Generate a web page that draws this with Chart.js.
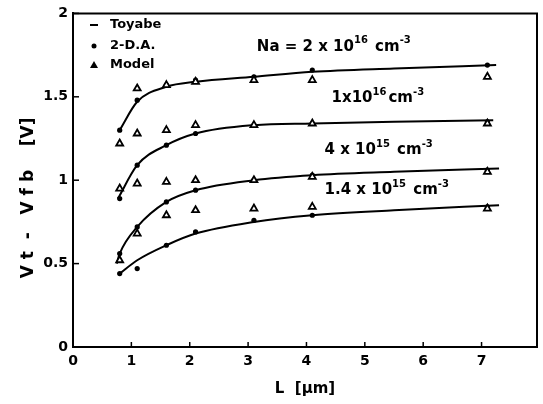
<!DOCTYPE html>
<html><head><meta charset="utf-8">
<script src="https://cdn.jsdelivr.net/npm/chart.js@4"></script>
<style>html,body{margin:0;padding:0;background:#fff}</style>
</head><body>
<canvas id="c" width="543" height="404"></canvas>
<script>
// ---- data ----
const xTicks = [0, 1, 2, 3, 4, 5, 6, 7];
const yTicks = [0, 0.5, 1, 1.5, 2];
const yTickLabels = ['0', '0.5', '1', '1.5', '2'];

// Toyabe (solid curves)
const L_toy_2e16  = [0.8, 1.1, 1.6, 2.1, 3.1, 4.1, 5.5, 7.25];
const toy_2e16    = [1.30, 1.47, 1.56, 1.59, 1.62, 1.65, 1.67, 1.69];
const L_toy_1e16  = [0.77, 1.1, 1.6, 2.1, 3.1, 4.1, 5.5, 7.2];
const toy_1e16    = [0.89, 1.09, 1.21, 1.28, 1.33, 1.34, 1.35, 1.36];
const L_toy_4e15  = [0.75, 0.8, 1.1, 1.6, 2.1, 3.1, 4.1, 5.5, 7.3];
const toy_4e15    = [0.50, 0.56, 0.72, 0.87, 0.94, 1.00, 1.03, 1.05, 1.07];
const L_toy_14e15 = [0.8, 1.1, 1.6, 2.1, 3.1, 4.1, 5.5, 7.3];
const toy_14e15   = [0.44, 0.52, 0.61, 0.68, 0.75, 0.79, 0.82, 0.85];

// 2-D.A. (dots)
const L_da      = [0.8, 1.1, 1.6, 2.1, 3.1, 4.1, 7.1];
const da_2e16   = [1.30, 1.48, 1.57, 1.60, 1.62, 1.66, 1.69];
const da_1e16   = [0.89, 1.09, 1.21, 1.28, 1.33, 1.34, 1.35];
const da_4e15   = [0.56, 0.72, 0.87, 0.94, 1.00, 1.03, 1.06];
const da_14e15  = [0.44, 0.47, 0.61, 0.69, 0.76, 0.79, 0.84];

// Model (triangles)
const L_model     = [0.8, 1.1, 1.6, 2.1, 3.1, 4.1, 7.1];
const model_2e16  = [null, 1.55, 1.57, 1.59, 1.60, 1.60, 1.62];
const model_1e16  = [1.22, 1.28, 1.30, 1.33, 1.33, 1.34, 1.34];
const model_4e15  = [0.95, 0.98, 0.99, 1.00, 1.00, 1.02, 1.05];
const model_14e15 = [0.52, 0.68, 0.79, 0.82, 0.83, 0.84, 0.83];

const legendLabels = ['Toyabe', '2-D.A.', 'Model'];
const seriesLabels = [
  [['Na = 2 x 10', false], ['16', true], [' cm', false], ['-3', true]],
  [['1x10', false], ['16', true], ['cm', false], ['-3', true]],
  [['4 x 10', false], ['15', true], [' cm', false], ['-3', true]],
  [['1.4 x 10', false], ['15', true], [' cm', false], ['-3', true]]
];

// ---- build ----
const pts = (xs, ys) => xs.map((x, i) => ({x, y: ys[i]})).filter(p => p.y !== null);
const FONT = "'DejaVu Sans', sans-serif";

function lineDS(label, xs, ys) {
  return {label, data: pts(xs, ys), showLine: true, borderColor: '#000', borderWidth: 2,
    pointRadius: 0, cubicInterpolationMode: 'monotone', fill: false, order: 2};
}
function dotDS(label, xs, ys) {
  return {label, data: pts(xs, ys), showLine: false, pointStyle: 'circle', pointRadius: 2.6,
    backgroundColor: '#000', borderColor: '#000', borderWidth: 0, order: 1};
}
function triDS(label, xs, ys) {
  return {label, data: pts(xs, ys), showLine: false, pointStyle: 'triangle', pointRadius: 4,
    backgroundColor: '#fff', borderColor: '#000', borderWidth: 1.8, order: 0};
}

const decor = {
  id: 'decor',
  afterDraw(chart) {
    const ctx = chart.ctx, a = chart.chartArea, xs = chart.scales.x, ys = chart.scales.y;
    ctx.save();
    ctx.strokeStyle = '#000';
    ctx.lineWidth = 2;
    ctx.beginPath();
    ctx.moveTo(a.left, a.top); ctx.lineTo(a.right, a.top); ctx.lineTo(a.right, a.bottom);
    ctx.stroke();
    ctx.lineWidth = 1.5;
    xTicks.forEach(v => { if (v === 0) return; const p = xs.getPixelForValue(v);
      ctx.beginPath(); ctx.moveTo(p, a.bottom); ctx.lineTo(p, a.bottom - 5); ctx.stroke(); });
    yTicks.forEach(v => { if (v === 0) return; const p = ys.getPixelForValue(v);
      ctx.beginPath(); ctx.moveTo(a.left, p); ctx.lineTo(a.left + 6, p); ctx.stroke(); });

    // legend
    ctx.fillStyle = '#000';
    ctx.font = 'bold 13px ' + FONT;
    ctx.textBaseline = 'middle';
    const lx = 94, tx = 110, ly = [25, 46, 65];
    ctx.lineWidth = 2;
    ctx.beginPath(); ctx.moveTo(lx - 4, ly[0]); ctx.lineTo(lx + 4, ly[0]); ctx.stroke();
    ctx.beginPath(); ctx.arc(lx, ly[1], 2.5, 0, Math.PI * 2); ctx.fill();
    ctx.beginPath(); ctx.moveTo(lx, ly[2] - 4); ctx.lineTo(lx + 4, ly[2] + 3); ctx.lineTo(lx - 4, ly[2] + 3); ctx.closePath(); ctx.fill();
    legendLabels.forEach((t, i) => ctx.fillText(t, tx, ly[i]));

    // curve labels
    const anchors = [[3.15, 1.80], [4.43, 1.49], [4.31, 1.18], [4.31, 0.94]];
    seriesLabels.forEach((parts, i) => {
      let x = xs.getPixelForValue(anchors[i][0]);
      const y = ys.getPixelForValue(anchors[i][1]);
      parts.forEach(([t, sup]) => {
        ctx.font = sup ? 'bold 10px ' + FONT : 'bold 15px ' + FONT;
        ctx.fillText(t, x, sup ? y - 6 : y);
        x += ctx.measureText(t).width + (sup ? 2 : 0);
      });
    });
    ctx.restore();
  }
};

new Chart(document.getElementById('c'), {
  type: 'scatter',
  data: {
    datasets: [
      lineDS('Toyabe', L_toy_2e16, toy_2e16),
      lineDS('Toyabe 1e16', L_toy_1e16, toy_1e16),
      lineDS('Toyabe 4e15', L_toy_4e15, toy_4e15),
      lineDS('Toyabe 1.4e15', L_toy_14e15, toy_14e15),
      dotDS('2-D.A.', L_da, da_2e16),
      dotDS('2-D.A. 1e16', L_da, da_1e16),
      dotDS('2-D.A. 4e15', L_da, da_4e15),
      dotDS('2-D.A. 1.4e15', L_da, da_14e15),
      triDS('Model', L_model, model_2e16),
      triDS('Model 1e16', L_model, model_1e16),
      triDS('Model 4e15', L_model, model_4e15),
      triDS('Model 1.4e15', L_model, model_14e15)
    ]
  },
  options: {
    responsive: false,
    animation: false,
    layout: {padding: {top: 13, right: 6, left: 0, bottom: 0}},
    plugins: {legend: {display: false}, tooltip: {enabled: false}},
    scales: {
      x: {
        type: 'linear', min: 0, max: 7.95,
        afterBuildTicks: s => { s.ticks = xTicks.map(v => ({value: v})); },
        afterFit: s => { s.height = 57; },
        grid: {display: true, drawOnChartArea: false, drawTicks: false},
        border: {display: true, color: '#000', width: 2},
        ticks: {color: '#000', padding: 6, font: {family: FONT, size: 14, weight: 'bold'}, autoSkip: false, maxRotation: 0},
        title: {display: true, text: 'L  [\u03bcm]', color: '#000', padding: {top: 4, bottom: 6},
          font: {family: FONT, size: 15, weight: 'bold'}}
      },
      y: {
        type: 'linear', min: 0, max: 2,
        afterBuildTicks: s => { s.ticks = yTicks.map(v => ({value: v})); },
        afterFit: s => { s.width = 73; },
        grid: {display: true, drawOnChartArea: false, drawTicks: false},
        border: {display: true, color: '#000', width: 2},
        ticks: {color: '#000', padding: 5, font: {family: FONT, size: 14, weight: 'bold'},
          callback: (v) => { const i = yTicks.indexOf(v); return i >= 0 ? yTickLabels[i] : ''; }},
        title: {display: true, text: 'V t  -   V f b    [V]      ', color: '#000', padding: {top: 18, bottom: 0},
          font: {family: FONT, size: 17, weight: 'bold'}}
      }
    }
  },
  plugins: [decor]
});
</script>
</body></html>
